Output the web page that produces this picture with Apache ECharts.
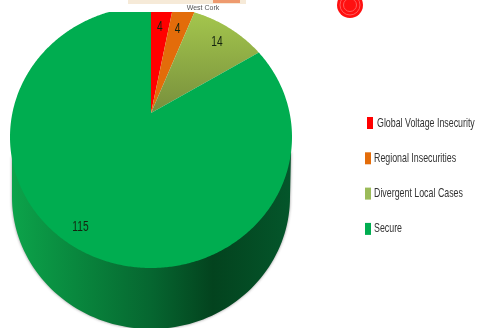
<!DOCTYPE html>
<html>
<head>
<meta charset="utf-8">
<style>html,body{margin:0;padding:0;background:#fff}#chart{width:477px;height:328px}</style>
<script src="https://cdn.jsdelivr.net/npm/echarts@6/dist/echarts.min.js"></script>
</head>
<body>
<div id="chart"></div>
<script>
const categories = ['Global Voltage Insecurity', 'Regional Insecurities', 'Divergent Local Cases', 'Secure'];
const values = [4, 4, 14, 115];

const font = '"Liberation Sans", sans-serif';
const olive = new echarts.graphic.LinearGradient(0, 0, 0, 1, [
  { offset: 0, color: '#a4c64d' }, { offset: 1, color: '#778f3c' }
]);
const sliceColors = ['#ff0000', '#e36c0a', olive, '#00ad50'];
const swatchColors = ['#ff0000', '#e36c0a', '#9bbb59', '#00ad50'];

// Tilted disc: the apex sits above the centre of the elliptical rim.
const rim = { cx: 151, cy: 137, rx: 141, ry: 131 };
const apex = { x: 151, y: 113 };
const squash = 0.89;
const clipTop = 12;
const depth = 60;
const labelRadius = [97, 98, 104, 146];
const condensed = 0.68;
const total = values.reduce((a, b) => a + b, 0);

// Point on the rim reached from the apex at a given clockwise angle.
function rimPoint(deg, reach) {
  const r = deg * Math.PI / 180;
  const dx = Math.sin(r), dy = -squash * Math.cos(r);
  const ax = (apex.x - rim.cx) / rim.rx, ay = (apex.y - rim.cy) / rim.ry;
  const ux = dx / rim.rx, uy = dy / rim.ry;
  const A = ux * ux + uy * uy, B = 2 * (ax * ux + ay * uy), C = ax * ax + ay * ay - 1;
  let t = (-B + Math.sqrt(B * B - 4 * A * C)) / (2 * A);
  if (dy < 0) t = Math.min(t, (apex.y - clipTop) / -dy);
  if (reach !== undefined) t = reach;
  return [apex.x + dx * t, apex.y + dy * t];
}

function sliceRenderer(index) {
  const before = values.slice(0, index).reduce((a, b) => a + b, 0);
  return function (params, api) {
    const start = before / total * 360;
    const end = start + api.value(0) / total * 360;
    const points = [[apex.x, apex.y]];
    for (let a = start; a < end; a += 0.5) points.push(rimPoint(a));
    points.push(rimPoint(end));
    const mid = (start + end) / 2;
    const at = rimPoint(mid, labelRadius[index]);
    return {
      type: 'group',
      children: [
        { type: 'polygon', shape: { points }, style: { fill: sliceColors[index] } },
        {
          type: 'text', x: at[0], y: at[1], scaleX: condensed, z2: 5,
          style: {
            text: String(api.value(0)), fill: '#14230f', font: '15px ' + font,
            align: 'center', verticalAlign: 'middle'
          }
        }
      ]
    };
  };
}

// Side wall of the disc, a half ellipse below the rim.
function wallRenderer() {
  const points = [[rim.cx - rim.rx + 2, rim.cy + 20]];
  for (let a = 180; a >= 0; a -= 2) {
    const r = a * Math.PI / 180;
    points.push([rim.cx + (rim.rx - 2) * Math.cos(r), rim.cy + depth + 132 * Math.sin(r)]);
  }
  points.push([rim.cx + rim.rx - 1, rim.cy + 15]);
  return {
    type: 'polygon',
    shape: { points },
    style: {
      fill: new echarts.graphic.LinearGradient(0, 0, 1, 0, [
        { offset: 0, color: '#0ca34a' },
        { offset: 0.3, color: '#087f3a' },
        { offset: 0.5, color: '#066630' },
        { offset: 0.72, color: '#03431e' },
        { offset: 1, color: '#04562b' }
      ]),
      shadowBlur: 3, shadowColor: 'rgba(0,0,0,0.45)'
    }
  };
}

const series = [{
  type: 'custom', name: 'wall', coordinateSystem: 'none', silent: true,
  data: [0], renderItem: wallRenderer, z: 1
}].concat(categories.map((name, i) => ({
  type: 'custom', name, coordinateSystem: 'none', silent: true, z: 2,
  itemStyle: { color: swatchColors[i] },
  data: [values[i]], renderItem: sliceRenderer(i)
})));

// Key on the right, drawn as elements so its text can be condensed.
const keyTop = 123, keyStep = 35.3, keyIndent = [2, 0, 0, 0];
const keyElements = categories.flatMap((name, i) => {
  const y = keyTop + keyStep * i;
  return [
    { type: 'rect', silent: true, shape: { x: 365 + keyIndent[i], y: y - 6, width: 6, height: 12 },
      style: { fill: swatchColors[i] } },
    { type: 'text', silent: true, x: 374 + keyIndent[i] + (i === 0 ? 1 : 0), y, scaleX: condensed,
      style: { text: name, fill: '#333', font: '13px ' + font, align: 'left', verticalAlign: 'middle' } }
  ];
});

const chart = echarts.init(document.getElementById('chart'), null, { renderer: 'canvas' });
chart.setOption({
  animation: false,
  backgroundColor: '#ffffff',
  graphic: [
    // Remains of the map panel along the top edge.
    { type: 'rect', shape: { x: 128, y: 0, width: 118, height: 4 }, style: { fill: '#f6ead8' }, silent: true },
    { type: 'rect', shape: { x: 213, y: 0, width: 27, height: 3 }, style: { fill: '#ee9a6e' }, silent: true },
    { type: 'text', x: 203, y: 8, silent: true,
      style: { text: 'West Cork', fill: '#555', font: '7px "Liberation Sans"', align: 'center', verticalAlign: 'middle' } },
    { type: 'circle', shape: { cx: 350, cy: 5, r: 13 }, style: { fill: '#ff1010' }, silent: true },
    { type: 'circle', shape: { cx: 350, cy: 5, r: 10 }, style: { fill: 'none', stroke: '#ff5a5a', lineWidth: 1 }, silent: true },
    { type: 'circle', shape: { cx: 350, cy: 5, r: 6.5 }, style: { fill: 'none', stroke: '#ff5a5a', lineWidth: 1 }, silent: true }
  ].concat(keyElements),
  series
});
</script>
</body>
</html>
